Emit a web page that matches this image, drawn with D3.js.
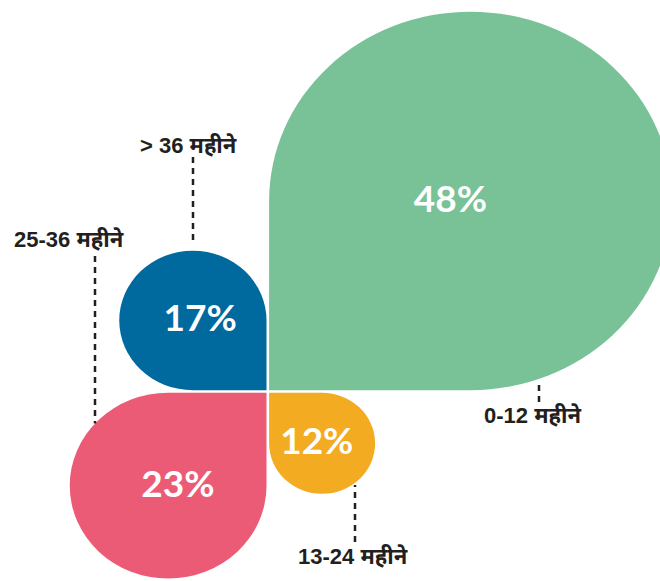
<!DOCTYPE html>
<html lang="hi">
<head>
  <meta charset="UTF-8">
  <title>महीने</title>
  <script src="https://d3js.org/d3.v7.min.js"></script>
  <style>
    body { margin: 0; background: #fff; }
  </style>
</head>
<body>
  <div id="root"></div>
  <script>
    // data
    const categories = ['0-12 महीने', '13-24 महीने', '25-36 महीने', '> 36 महीने']
    const values = [48, 12, 23, 17]

    const W = 660, H = 581
    const svg = d3.select('#root')
      .append('svg')
      .attr('width', W)
      .attr('height', H)
      .style('display', 'block')

    // centre of the four petals and the white gap between them
    const cx = 267.8, cy = 391.5, gap = 1.3
    // quadrant of each category, clockwise from top right
    const dirs = [[1, -1], [1, 1], [-1, 1], [-1, -1]]

    const color = d3.scaleOrdinal()
      .domain(categories)
      .range(['#79c297', '#f3ab22', '#ec5b75', '#00699e'])

    // petal size: width and height of each shape
    const sw = d3.scaleLinear().domain([0, 48]).range([7, 403])
    const sh = d3.scaleLinear().domain([0, 48]).range([8.5, 378.5])

    // unit petal: sharp corner at (0,0), rounded everywhere else
    function petal() {
      const p = d3.path()
      p.moveTo(0, 0)
      p.lineTo(0.5, 0)
      p.arc(0.5, 0.5, 0.5, -Math.PI / 2, Math.PI)
      p.closePath()
      return p.toString()
    }

    // y of a petal's outline at x, on its far or near (centre) side
    function edgeY(i, x, far) {
      const [dx, dy] = dirs[i]
      const w = sw(values[i]), h = sh(values[i])
      const x0 = cx + dx * gap, y0 = cy + dy * gap
      const u = Math.min(1, Math.max(0, (x - x0) / (dx * w)))
      const r = Math.sqrt(Math.max(0, 0.25 - (u - 0.5) ** 2))
      const v = far ? 0.5 + r : (u <= 0.5 ? 0 : 0.5 - r)
      return y0 + dy * h * v
    }

    const g = svg.append('g')

    g.selectAll('path')
      .data(values)
      .join('path')
      .attr('d', petal())
      .attr('fill', (d, i) => color(categories[i]))
      .attr('transform', (d, i) => {
        const [dx, dy] = dirs[i]
        return `translate(${cx + dx * gap},${cy + dy * gap}) scale(${dx * sw(d)},${dy * sh(d)})`
      })

    // percentages
    g.selectAll('text.pct')
      .data(values)
      .join('text')
      .attr('class', 'pct')
      .attr('x', (d, i) => cx + dirs[i][0] * (gap + 0.45 * sw(d)))
      .attr('y', (d, i) => cy + dirs[i][1] * (gap + sh(d) / 2) - 2)
      .attr('dy', '0.35em')
      .attr('text-anchor', 'middle')
      .attr('fill', '#fff')
      .style('font-family', 'Lato, "Open Sans", sans-serif')
      .style('font-weight', 700)
      .style('font-size', '37px')
      .text(d => d + '%')

    // category labels with dashed leaders
    // x,y: label start / baseline; lx: leader x; end: leader end near the label
    const notes = [
      { x: 484, y: 423, lx: 539, end: 402, far: false, pad: 3 },
      { x: 298, y: 564, lx: 355, end: 542, far: true, pad: 2 },
      { x: 14, y: 247, lx: 95, end: 256, far: false, pad: 0 },
      { x: 140, y: 153, lx: 193, end: 157, far: true, pad: 7 }
    ]

    svg.selectAll('line.lead')
      .data(notes)
      .join('line')
      .attr('class', 'lead')
      .attr('x1', d => d.lx).attr('x2', d => d.lx)
      .attr('y1', d => d.end)
      .attr('y2', (d, i) => {
        const e = edgeY(i, d.lx, d.far)
        return e + Math.sign(d.end - e) * d.pad
      })
      .attr('stroke', '#231f20')
      .attr('stroke-width', 2.5)
      .attr('stroke-dasharray', '6,5')

    svg.selectAll('text.cat')
      .data(categories)
      .join('text')
      .attr('class', 'cat')
      .attr('x', (d, i) => notes[i].x)
      .attr('y', (d, i) => notes[i].y)
      .attr('fill', '#231f20')
      .style('font-family', '"Liberation Sans", Arial, "Noto Sans", sans-serif')
      .style('font-weight', 700)
      .style('font-size', '22px')
      .text(d => d)
  </script>
</body>
</html>
